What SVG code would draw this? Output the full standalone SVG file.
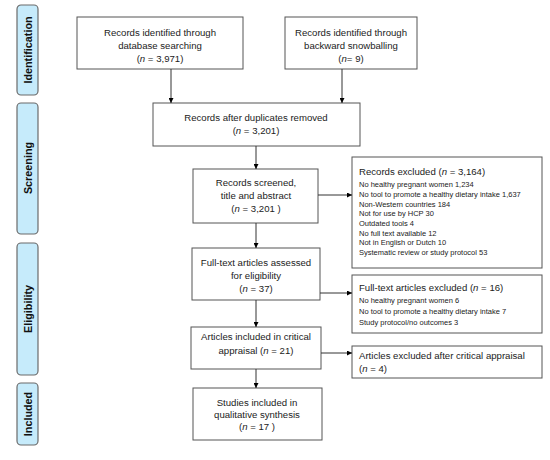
<svg xmlns="http://www.w3.org/2000/svg" width="550" height="460" viewBox="0 0 550 460">
<defs>
<marker id="ah" viewBox="0 0 10 10" refX="10" refY="5" markerWidth="5" markerHeight="5" orient="auto" markerUnits="userSpaceOnUse"><path d="M0,0 L10,5 L0,10 z" fill="#000"/></marker>
</defs>
<style>
.bg{fill:#fff}
.side rect{fill:#c6ebfb;stroke:#6b6b6b;stroke-width:1.2}
.side text{font-family:"Liberation Sans",Arial,sans-serif;font-size:10.8px;font-weight:bold;fill:#111;text-anchor:middle}
.box rect{fill:#fff;stroke:#555;stroke-width:1}
.box text{font-family:"Liberation Sans",Arial,sans-serif;font-size:9.6px;fill:#222;text-anchor:middle}
.ex text{text-anchor:start}
.ex .sm{font-size:7.5px}
.conn line{stroke:#333;stroke-width:1;marker-end:url(#ah)}
</style>
<rect class="bg" width="550" height="460"/>
<g id="side-identification" class="side"><rect x="17" y="5" width="21" height="90" rx="4"/><text transform="translate(31.5,50) rotate(-90)">Identification</text></g>
<g id="side-screening" class="side"><rect x="17" y="103" width="21" height="131" rx="4"/><text transform="translate(31.5,168) rotate(-90)">Screening</text></g>
<g id="side-eligibility" class="side"><rect x="17" y="243" width="21" height="132" rx="4"/><text transform="translate(31.5,309) rotate(-90)">Eligibility</text></g>
<g id="side-included" class="side"><rect x="17" y="383" width="21" height="62" rx="4"/><text transform="translate(31.5,414) rotate(-90)">Included</text></g>

<g id="n-database" class="box"><rect x="77" y="17" width="166" height="52"/><text x="160" y="36">Records identified through</text><text x="160" y="49">database searching</text><text x="160" y="62">(<tspan font-style="italic">n</tspan> = 3,971)</text></g>
<g id="n-snowball" class="box"><rect x="285" y="17" width="132" height="52"/><text x="351" y="36">Records identified through</text><text x="351" y="49">backward snowballing</text><text x="351" y="62">(<tspan font-style="italic">n</tspan>= 9)</text></g>
<g id="n-duplicates" class="box"><rect x="153" y="103" width="207" height="43"/><text x="256" y="121">Records after duplicates removed</text><text x="256" y="134">(<tspan font-style="italic">n</tspan> = 3,201)</text></g>
<g id="n-screened" class="box"><rect x="193" y="169" width="125" height="54"/><text x="256" y="186">Records screened,</text><text x="256" y="199">title and abstract</text><text x="256" y="212">(<tspan font-style="italic">n</tspan> = 3,201 )</text></g>
<g id="n-excluded1" class="box ex"><rect x="352" y="157" width="190" height="111"/><text x="359" y="175">Records excluded (<tspan font-style="italic">n</tspan> = 3,164)</text>
<text class="sm" x="359" y="187">No healthy pregnant women 1,234</text>
<text class="sm" x="359" y="197">No tool to promote a healthy dietary intake 1,637</text>
<text class="sm" x="359" y="206.5">Non-Western countries 184</text>
<text class="sm" x="359" y="216">Not for use by HCP 30</text>
<text class="sm" x="359" y="225.5">Outdated tools 4</text>
<text class="sm" x="359" y="235.5">No full text available 12</text>
<text class="sm" x="359" y="245">Not in English or Dutch 10</text>
<text class="sm" x="359" y="254.5">Systematic review or study protocol 53</text></g>
<g id="n-fulltext" class="box"><rect x="192" y="248" width="128" height="52"/><text x="256" y="266">Full-text articles assessed</text><text x="256" y="279">for eligibility</text><text x="256" y="292">(<tspan font-style="italic">n</tspan> = 37)</text></g>
<g id="n-excluded2" class="box ex"><rect x="352" y="275" width="190" height="58"/><text x="359" y="291">Full-text articles excluded (<tspan font-style="italic">n</tspan> = 16)</text>
<text class="sm" x="359" y="302.5">No healthy pregnant women 6</text>
<text class="sm" x="359" y="314">No tool to promote a healthy dietary intake 7</text>
<text class="sm" x="359" y="324.5">Study protocol/no outcomes 3</text></g>
<g id="n-appraisal" class="box"><rect x="191" y="327" width="130" height="42"/><text x="256" y="340">Articles included in critical</text><text x="256" y="354">appraisal (<tspan font-style="italic">n</tspan> = 21)</text></g>
<g id="n-excluded3" class="box ex"><rect x="352" y="346" width="190" height="32"/><text x="359" y="359">Articles excluded after critical appraisal</text><text x="359" y="372">(<tspan font-style="italic">n</tspan> = 4)</text></g>
<g id="n-included" class="box"><rect x="193" y="388" width="129" height="52"/><text x="257" y="406">Studies included in</text><text x="257" y="418">qualitative synthesis</text><text x="257" y="430">(<tspan font-style="italic">n</tspan> =  17 )</text></g>

<g id="connectors" class="conn">
<line x1="171" y1="69" x2="171" y2="103"/>
<line x1="342" y1="69" x2="342" y2="103"/>
<line x1="256" y1="146" x2="256" y2="169"/>
<line x1="318" y1="195" x2="352" y2="195"/>
<line x1="256" y1="223" x2="256" y2="248"/>
<line x1="320" y1="293" x2="352" y2="293"/>
<line x1="256" y1="300" x2="256" y2="327"/>
<line x1="321" y1="353" x2="352" y2="353"/>
<line x1="256" y1="369" x2="256" y2="388"/>
</g>
</svg>
